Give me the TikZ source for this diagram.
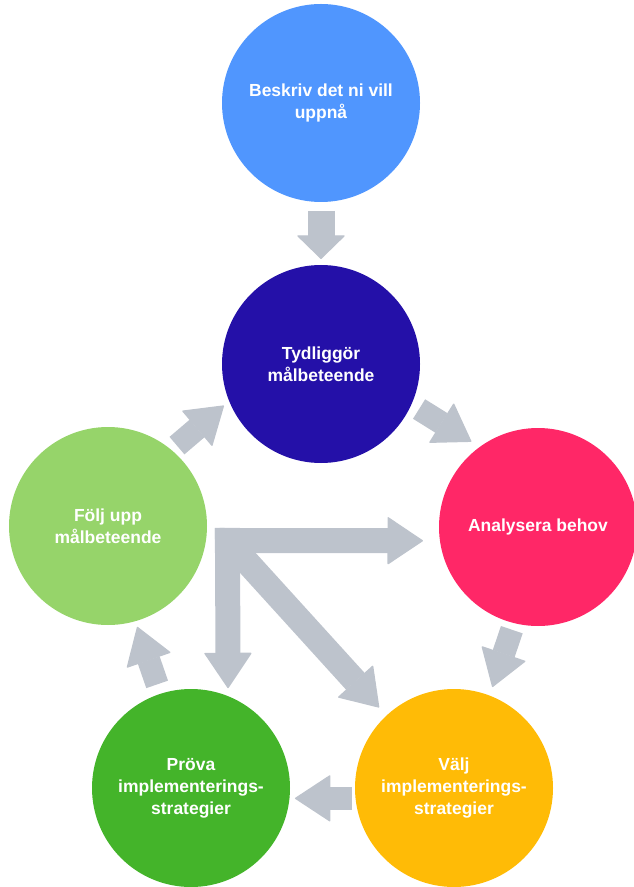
\documentclass[tikz,border=0pt]{standalone}
\usepackage{fontspec}
\setmainfont{Liberation Sans}
\usepackage{tikz}
\usetikzlibrary{arrows.meta}
\definecolor{goalblue}{RGB}{80,150,254}
\definecolor{targetnavy}{RGB}{36,16,168}
\definecolor{needpink}{RGB}{255,39,103}
\definecolor{followgreen}{RGB}{150,212,106}
\definecolor{trygreen}{RGB}{68,180,42}
\definecolor{chooseyellow}{RGB}{255,187,6}
\definecolor{flowgray}{RGB}{189,195,204}
\tikzset{every picture/.style={line width=0.75pt}}
\tikzset{
	stage/.style={circle, minimum size=148.5pt, inner sep=0pt, outer sep=0pt, text=white, align=center, font=\bfseries\fontsize{13.1}{16.5}\selectfont},
	flow/.style={draw=flowgray, line width=17.25pt, -{Triangle[length=27pt,width=35.25pt,line width=1pt,round]}},
	flowtop/.style={draw=flowgray, line width=20.25pt, -{Triangle[length=18pt,width=36.75pt,line width=1pt,round]}},
	flowhub/.style={draw=flowgray, line width=18.75pt, -{Triangle[length=27pt,width=36pt,line width=1pt,round]}}
}

\begin{document}
\begin{tikzpicture}[x=0.75pt,y=0.75pt,yscale=-1,xscale=1]
	\useasboundingbox (0,0) rectangle (633,887);
	
	%Shape: Circle
	\node [stage, fill=goalblue] (goal) at (321,103) {Beskriv det ni vill\\uppnå};
	%Shape: Circle
	\node [stage, fill=targetnavy] (target) at (321,364) {Tydliggör\\målbeteende};
	%Shape: Circle
	\node [stage, fill=needpink] (need) at (538,527) {Analysera behov};
	%Shape: Circle
	\node [stage, fill=followgreen] (follow) at (108,526) {Följ upp\\målbeteende};
	%Shape: Circle
	\node [stage, fill=trygreen] (try) at (191,788) {Pröva\\implementerings-\\strategier};
	%Shape: Circle
	\node [stage, fill=chooseyellow] (choose) at (454,788) {Välj\\implementerings-\\strategier};
	
	%Block Arrows
	\draw [flowtop, shorten <=6.75pt, shorten >=4.5pt] (goal.south) -- (target.north) ;
	\draw [flow, shorten <=6.75pt, shorten >=7.5pt] (target.-24) -- (need.126) ;
	\draw [flow, shorten <=5.25pt, shorten >=6.75pt] (need.-104) -- (choose.69) ;
	\draw [flow, shorten <=2.6pt, shorten >=4.1pt] (choose.186) -- (try.-6) ;
	\draw [flow, shorten <=7.5pt, shorten >=4.5pt] (try.108) -- (follow.-74) ;
	\draw [flow, shorten <=5.25pt, shorten >=5.25pt] (follow.50) -- (target.-158) ;
	
	%Hub in the middle
	\coordinate (hub) at (227.5,540.5);
	\draw [flowhub, shorten >=8.25pt] (hub) -- (choose.133) ;
	\draw [flowhub, shorten <=-9.4pt, shorten >=12.75pt] (hub) -- (need.188) ;
	\draw [flowhub, shorten <=-9.4pt, shorten >=6pt] (hub) -- (try.68) ;
	
\end{tikzpicture}
\end{document}
